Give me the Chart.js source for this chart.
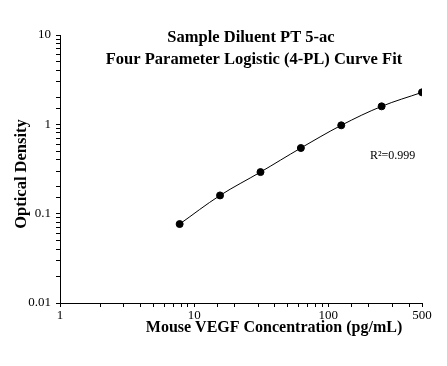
<!DOCTYPE html>
<html>
<head>
<meta charset="utf-8">
<script src="https://cdn.jsdelivr.net/npm/chart.js@4.4.1/dist/chart.umd.min.js"></script>
<style>
  html, body { margin: 0; padding: 0; background: #fff; }
  canvas { display: block; }
</style>
</head>
<body>
<canvas id="chart" width="447" height="366"></canvas>
<script>
// standard concentrations (pg/mL) and measured optical density
const concentrations = [7.8, 15.6, 31.25, 62.5, 125, 250, 500];
const opticalDensity = [0.0765, 0.160, 0.292, 0.543, 0.975, 1.59, 2.28];

const xTickValues = [1, 10, 100, 500];
const xTickLabels = ['1', '10', '100', '500'];
const yTickValues = [0.01, 0.1, 1, 10];
const yTickLabels = ['0.01', '0.1', '1', '10'];

const titleLines = ['Sample Diluent PT 5-ac', 'Four Parameter Logistic (4-PL) Curve Fit'];
const xTitle = 'Mouse VEGF Concentration (pg/mL)';
const yTitle = 'Optical Density';
const rSquared = 'R\u00B2=0.999';

const SERIF = '"Liberation Serif", "Times New Roman", serif';

function labelFor(values, labels, v) {
  const i = values.findIndex(t => Math.abs(t - v) / t < 1e-6);
  return i >= 0 ? labels[i] : '';
}

// draws the titles and the R² note at fixed spots, like the original plot
const textPlugin = {
  id: 'texts',
  afterDraw(chart) {
    const ctx = chart.ctx;
    ctx.save();
    ctx.fillStyle = '#000';
    ctx.textAlign = 'center';
    ctx.textBaseline = 'middle';
    ctx.font = 'bold 16.5px ' + SERIF;
    ctx.fillText(titleLines[0], 251, 38);
    ctx.fillText(titleLines[1], 254, 60);

    ctx.font = 'bold 16px ' + SERIF;
    ctx.fillText(xTitle, 274, 328);

    ctx.translate(22, 174);
    ctx.rotate(-Math.PI / 2);
    ctx.font = 'bold 16.5px ' + SERIF;
    ctx.fillText(yTitle, 0, 0);
    ctx.restore();

    ctx.save();
    ctx.fillStyle = '#000';
    ctx.font = '12px ' + SERIF;
    ctx.textAlign = 'left';
    ctx.textBaseline = 'middle';
    ctx.fillText(rSquared, 370, 156);
    ctx.restore();
  }
};

new Chart(document.getElementById('chart'), {
  type: 'line',
  data: {
    datasets: [{
      data: concentrations.map((c, i) => ({ x: c, y: opticalDensity[i] })),
      borderColor: '#000',
      backgroundColor: '#000',
      borderWidth: 1,
      pointRadius: 3.5,
      pointHoverRadius: 3.5,
      tension: 0.35
    }]
  },
  options: {
    responsive: false,
    animation: false,
    layout: { padding: { top: 35, right: 25, left: 0, bottom: 0 } },
    plugins: { legend: { display: false }, tooltip: { enabled: false } },
    scales: {
      x: {
        type: 'logarithmic',
        min: 1,
        max: 500,
        afterFit: s => { s.height = 63; },
        border: { color: '#000', width: 1 },
        grid: { drawOnChartArea: false, drawTicks: true, tickLength: 4, color: '#000' },
        ticks: {
          autoSkip: false,
          maxRotation: 0,
          padding: 1,
          color: '#000',
          font: { family: SERIF, size: 13 },
          callback: v => labelFor(xTickValues, xTickLabels, v)
        }
      },
      y: {
        type: 'logarithmic',
        min: 0.01,
        max: 10,
        afterFit: s => { s.width = 60; },
        border: { color: '#000', width: 1 },
        grid: { drawOnChartArea: false, drawTicks: true, tickLength: 4, color: '#000' },
        ticks: {
          autoSkip: false,
          padding: 5,
          color: '#000',
          font: { family: SERIF, size: 13 },
          callback: v => labelFor(yTickValues, yTickLabels, v)
        }
      }
    }
  },
  plugins: [textPlugin]
});
</script>
</body>
</html>
